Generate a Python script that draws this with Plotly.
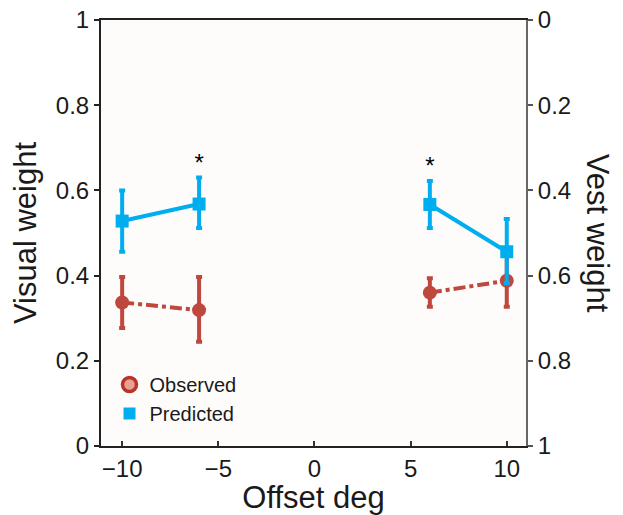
import plotly.graph_objects as go

offsets = [-10, -6, 6, 10]
observed = [0.337, 0.319, 0.360, 0.388]
observed_hi = [0.397, 0.397, 0.394, 0.449]
observed_lo = [0.277, 0.245, 0.327, 0.327]
predicted = [0.528, 0.568, 0.567, 0.456]
predicted_hi = [0.600, 0.630, 0.622, 0.533]
predicted_lo = [0.456, 0.512, 0.512, 0.382]
star_x = [-6, 6]
star_y = [0.66, 0.653]
xticks = [-10, -5, 0, 5, 10]
xticklabels = ["\u221210", "\u22125", "0", "5", "10"]
yticks = [0, 0.2, 0.4, 0.6, 0.8, 1]
yticklabels = ["0", "0.2", "0.4", "0.6", "0.8", "1"]

RED = "#b8342a"
BLUE = "#00aeef"

fig = go.Figure()

for seg in (slice(0, 2), slice(2, 4)):
    xs = offsets[seg]
    ys = observed[seg]
    fig.add_trace(go.Scatter(
        x=xs, y=ys, mode="lines+markers",
        line=dict(color=RED, width=4, dash="dashdot"),
        marker=dict(symbol="circle", size=14, color=RED),
        error_y=dict(type="data", symmetric=False,
                     array=[h - v for h, v in zip(observed_hi[seg], ys)],
                     arrayminus=[v - l for v, l in zip(ys, observed_lo[seg])],
                     color=RED, thickness=4, width=3),
        showlegend=False, opacity=0.9))

for seg in (slice(0, 2), slice(2, 4)):
    xs = offsets[seg]
    ys = predicted[seg]
    fig.add_trace(go.Scatter(
        x=xs, y=ys, mode="lines+markers",
        line=dict(color=BLUE, width=4),
        marker=dict(symbol="square", size=13, color=BLUE),
        error_y=dict(type="data", symmetric=False,
                     array=[h - v for h, v in zip(predicted_hi[seg], ys)],
                     arrayminus=[v - l for v, l in zip(ys, predicted_lo[seg])],
                     color=BLUE, thickness=4, width=3),
        showlegend=False))

# legend entries
fig.add_trace(go.Scatter(x=[None], y=[None], mode="markers", name="Observed",
                         marker=dict(symbol="circle", size=14, color="#e8a090",
                                     line=dict(color=RED, width=3.5))))
fig.add_trace(go.Scatter(x=[None], y=[None], mode="markers", name="Predicted",
                         marker=dict(symbol="square", size=12, color=BLUE)))

fig.add_trace(go.Scatter(x=star_x, y=star_y, mode="text", text=["*", "*"],
                         textfont=dict(size=24, color="black"),
                         showlegend=False, hoverinfo="skip"))

# secondary axis trace (invisible) to create right axis
fig.add_trace(go.Scatter(x=[None], y=[None], yaxis="y2", showlegend=False))

font_family = "Liberation Sans, Arial, sans-serif"

fig.update_layout(
    width=623, height=515,
    margin=dict(l=101, r=97, t=20, b=69),
    paper_bgcolor="white",
    plot_bgcolor="#fdfcfa",
    font=dict(family=font_family, size=24, color="#1a1a1a"),
    xaxis=dict(range=[-11.1, 11.0], tickvals=xticks, ticktext=xticklabels,
               ticks="inside", ticklen=5, tickwidth=1.5, tickcolor="#333",
               showgrid=False, zeroline=False, automargin=False,
               ticklabeloverflow="allow",
               showline=True, linecolor="#222", linewidth=2, mirror=True,
               title=dict(text="Offset deg", font=dict(size=31), standoff=11),
               tickfont=dict(size=24)),
    yaxis=dict(range=[0, 1], tickvals=yticks, ticktext=yticklabels,
               ticks="outside", ticklen=5, tickwidth=1.5, tickcolor="#222",
               showgrid=False, zeroline=False, automargin=False,
               ticklabeloverflow="allow",
               showline=True, linecolor="#222", linewidth=2,
               title=dict(text="Visual weight", font=dict(size=31), standoff=10),
               tickfont=dict(size=24)),
    yaxis2=dict(range=[1, 0], overlaying="y", side="right",
                tickvals=yticks, ticktext=yticklabels,
                ticks="outside", ticklen=5, tickwidth=1.5, tickcolor="#555",
                showgrid=False, zeroline=False, automargin=False,
                ticklabeloverflow="allow",
                showline=True, linecolor="#666", linewidth=2,
                tickfont=dict(size=24)),
    legend=dict(x=0.02, y=0.19, xanchor="left", yanchor="top",
                bgcolor="rgba(0,0,0,0)", font=dict(size=20),
                itemsizing="trace", tracegroupgap=0),
    annotations=[dict(text="Vest weight", textangle=90, xref="paper", yref="paper",
                      x=1.17, y=0.5, xanchor="center", yanchor="middle",
                      showarrow=False, font=dict(size=31))],
)

fig.write_html("out.html", config={"displayModeBar": False},
               post_script="document.body.style.margin='0';document.body.style.overflow='hidden';")
